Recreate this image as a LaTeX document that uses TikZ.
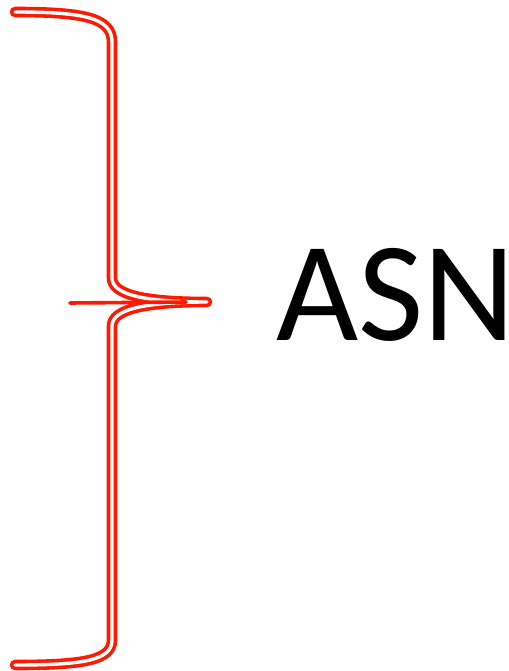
\documentclass[tikz,border=0pt]{standalone}
\usepackage{fontspec}
\setmainfont{Carlito}
\begin{document}
\begin{tikzpicture}[x=1pt,y=-1pt,
  bracestyle/.style={draw=red!80!orange, line width=3.6pt, double=white, double distance=3.4pt, line join=round, line cap=round},
  spike/.style={draw=red!80!orange, line width=3.6pt, line cap=round}]
\useasboundingbox (0,0) rectangle (508,671);
\draw[bracestyle] (15,12) .. controls (85,12) and (112,18) .. (112,42)
  -- (112,278) .. controls (112,296) and (150,302) .. (207,302)
  .. controls (150,302) and (112,308) .. (112,326)
  -- (112,640) .. controls (112,660) and (85,665) .. (15,665);
\coordinate (sl) at (70,303);
\coordinate (sr) at (186,302);
\draw[spike] (sl) -- (sr);
\node[anchor=base west, inner sep=0pt, font=\fontsize{142}{142}\selectfont] (asn) at (276,340) {ASN};
\end{tikzpicture}
\end{document}
